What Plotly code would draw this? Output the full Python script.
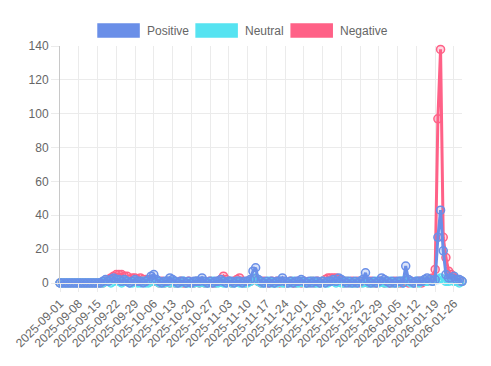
import pandas as pd
import plotly.graph_objects as go

dates = [d.strftime("%Y-%m-%d") for d in pd.date_range("2025-09-01", "2026-01-29", freq="D")]
tick_labels = dates[::7]

positive = [
    0, 0, 0, 0, 0, 0, 0, 0, 0, 0,
    0, 0, 0, 0, 0, 0, 1, 2, 1, 2,
    3, 2, 2, 1, 2, 1, 0, 1, 2, 1,
    1, 0, 1, 2, 4, 5, 2, 1, 0, 1,
    1, 3, 2, 1, 0, 1, 1, 0, 1, 0,
    1, 1, 1, 3, 1, 0, 1, 0, 1, 1,
    2, 1, 0, 1, 1, 0, 1, 1, 0, 1,
    1, 2, 7, 9, 2, 1, 0, 1, 0, 1,
    0, 1, 1, 3, 1, 0, 1, 0, 1, 1,
    2, 1, 0, 1, 0, 1, 1, 0, 1, 0,
    1, 1, 2, 1, 3, 2, 1, 0, 1, 0,
    1, 0, 1, 2, 6, 1, 0, 1, 0, 1,
    3, 2, 1, 0, 1, 0, 1, 1, 0, 10,
    2, 1, 0, 1, 1, 1, 2, 3, 2, 1,
    2, 27, 43, 19, 5, 3, 3, 4, 2, 2, 1,
]
neutral = [
    0, 0, 0, 0, 0, 0, 0, 0, 0, 0,
    0, 0, 0, 0, 0, 0, 0, 1, 1, 0,
    1, 2, 1, 0, 1, 1, 0, 0, 1, 0,
    0, 1, 0, 0, 1, 2, 1, 0, 0, 0,
    1, 0, 1, 0, 0, 0, 1, 0, 0, 0,
    0, 1, 0, 1, 0, 0, 0, 1, 0, 0,
    1, 0, 0, 1, 0, 0, 1, 0, 0, 0,
    0, 1, 2, 3, 1, 0, 0, 0, 1, 0,
    0, 0, 1, 0, 0, 0, 0, 1, 0, 0,
    1, 0, 0, 0, 1, 0, 0, 0, 1, 0,
    0, 1, 1, 0, 1, 0, 0, 1, 0, 0,
    0, 0, 1, 0, 1, 0, 0, 0, 1, 0,
    1, 0, 0, 1, 0, 0, 0, 1, 0, 2,
    1, 0, 0, 1, 0, 1, 1, 1, 2, 1,
    2, 2, 3, 2, 1, 1, 2, 1, 1, 0, 1,
]
negative = [
    0, 0, 0, 0, 0, 0, 0, 0, 0, 0,
    0, 0, 0, 0, 0, 0, 0, 1, 2, 3,
    4, 5, 5, 5, 4, 4, 2, 3, 3, 2,
    3, 2, 2, 1, 2, 1, 1, 0, 1, 0,
    1, 0, 1, 0, 0, 1, 0, 0, 1, 0,
    0, 1, 0, 1, 0, 0, 1, 0, 0, 1,
    2, 4, 2, 1, 0, 1, 2, 3, 1, 0,
    1, 1, 2, 2, 1, 0, 1, 0, 0, 1,
    0, 1, 0, 1, 0, 0, 1, 0, 0, 1,
    0, 1, 0, 0, 1, 0, 1, 0, 1, 2,
    3, 3, 3, 3, 2, 1, 0, 1, 0, 1,
    0, 1, 0, 1, 1, 0, 1, 0, 0, 1,
    1, 0, 1, 0, 0, 1, 0, 0, 1, 1,
    0, 1, 0, 0, 1, 0, 1, 1, 2, 3,
    8, 97, 138, 27, 15, 7, 5, 3, 2, 1, 1,
]

series_names = ["Positive", "Neutral", "Negative"]
series_values = [positive, neutral, negative]
line_colors = ["#6a8fe8", "#56e3f1", "#ff6187"]
fill_colors = ["rgba(106,143,232,0.25)", "rgba(86,227,241,0.25)", "rgba(255,97,135,0.25)"]

fig = go.Figure()
# draw last series first so Positive sits on top (as in the reference)
for name, vals, lc, fc in reversed(list(zip(series_names, series_values, line_colors, fill_colors))):
    fig.add_trace(go.Scatter(
        x=dates, y=vals, name=name, mode="lines+markers",
        line=dict(color=lc, width=3),
        marker=dict(size=8, color=fc, line=dict(color=lc, width=1.5)),
        showlegend=False, cliponaxis=False,
    ))

# page body has an 8px margin; work in window pixels and shift
OFF = 8
W, H = 475, 350
plot_left, plot_right, plot_top, plot_bottom = 60, 461.7, 46, 283
L = plot_left - OFF
T = plot_top - OFF
R = W - (plot_right - OFF)
B = H - (plot_bottom - OFF)
pw, ph = plot_right - plot_left, plot_bottom - plot_top

def px_x(x):
    return (x - plot_left) / pw

def px_y(y):
    return (plot_bottom - y) / ph

legend_boxes = [(98, 139), (196, 237), (291, 332)]
legend_text_x = [145, 243, 338]
shapes = []
annotations = []
for name, lc, (x0, x1), tx in zip(series_names, line_colors, legend_boxes, legend_text_x):
    shapes.append(dict(type="rect", xref="paper", yref="paper",
                       x0=px_x(x0), x1=px_x(x1), y0=px_y(37), y1=px_y(24),
                       fillcolor=lc, line=dict(color=lc, width=1.5)))
    annotations.append(dict(xref="paper", yref="paper", x=px_x(tx), y=px_y(30.5),
                            text=name, showarrow=False, xanchor="left", yanchor="middle",
                            font=dict(size=12, color="#666666")))

grid = "#ebebeb"
fig.update_layout(
    width=W, height=H,
    margin=dict(l=L, r=R, t=T, b=B, pad=0, autoexpand=False),
    paper_bgcolor="white", plot_bgcolor="white",
    font=dict(family="Liberation Sans, Arial, sans-serif", size=12, color="#666666"),
    shapes=shapes, annotations=annotations,
    xaxis=dict(
        type="category", categoryorder="array", categoryarray=dates,
        range=[0, len(dates) - 1], automargin=False,
        tickmode="array", tickvals=tick_labels, ticktext=tick_labels,
        tickangle=-45, showgrid=True, gridcolor=grid, gridwidth=1,
        ticks="outside", ticklen=8, tickcolor=grid,
        showline=True, linecolor=grid, linewidth=1,
        zeroline=False, tickfont=dict(size=12, color="#666666"),
    ),
    yaxis=dict(
        range=[0, 140], tickmode="array", tickvals=[0, 20, 40, 60, 80, 100, 120, 140],
        automargin=False,
        showgrid=True, gridcolor=grid, gridwidth=1,
        ticks="outside", ticklen=8, tickcolor=grid,
        showline=True, linecolor="#c8c8c8", linewidth=1,
        zeroline=False, tickfont=dict(size=12, color="#666666"),
    ),
)

fig.write_html("out.html")
